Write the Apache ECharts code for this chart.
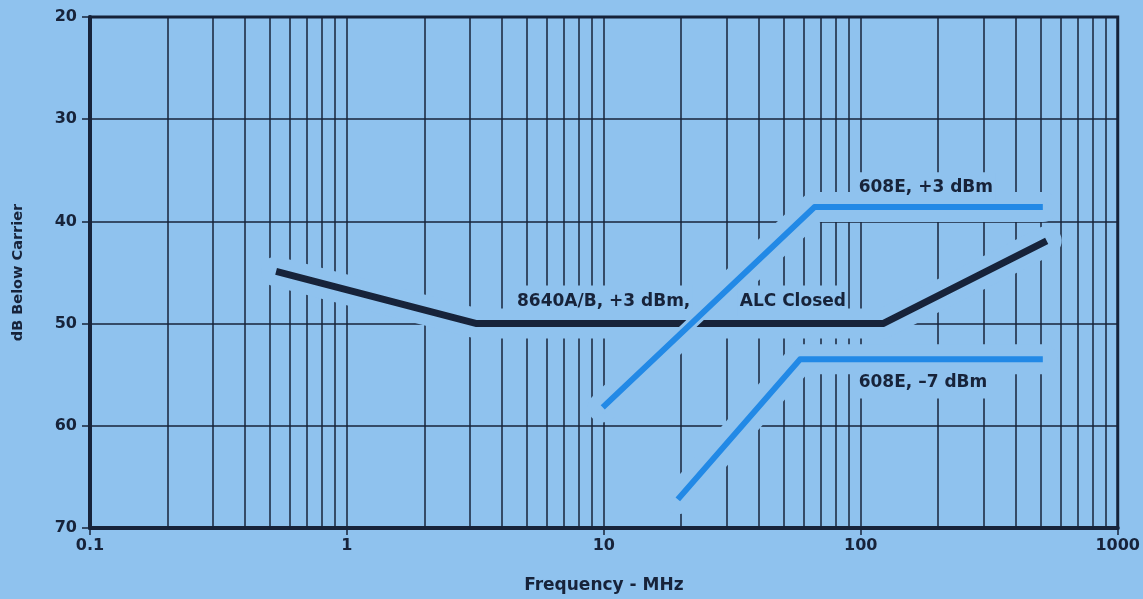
<!DOCTYPE html>
<html>
<head>
<meta charset="utf-8">
<title>Spurious vs Frequency</title>
<script src="https://cdn.jsdelivr.net/npm/echarts@6/dist/echarts.min.js"></script>
<style>
  html, body { margin: 0; padding: 0; background: #8fc2ee; }
  #chart { width: 1143px; height: 599px; }
</style>
</head>
<body>
<div id="chart"></div>
<script>
// values
const decadeLabels = [0.1, 1, 10, 100, 1000];
const minorFreqs = [
  0.2, 0.3, 0.4, 0.5, 0.6, 0.7, 0.8, 0.9,
  2, 3, 4, 5, 6, 7, 8, 9,
  20, 30, 40, 50, 60, 70, 80, 90,
  200, 300, 400, 500, 600, 700, 800, 900,
];
const dbTicks = [20, 30, 40, 50, 60, 70];

const alcFreq = [0.53, 3.2, 122, 529];
const alcDb = [44.9, 50, 50, 41.9];

const plus3Freq = [9.9, 66, 511];
const plus3Db = [58.2, 38.6, 38.6];

const minus7Freq = [19.4, 58, 511];
const minus7Db = [67.2, 53.5, 53.5];

const noteText = ["8640A/B, +3 dBm,", "ALC Closed", "608E, +3 dBm", "608E, \u20137 dBm"];
const noteFreq = [4.51, 33.2, 96.4, 96.4];
const noteDb = [47.8, 47.8, 36.7, 55.8];

const BG = "#8fc2ee";
const INK = "#17233a";
const BLUE = "#2289e6";
const FONT = "DejaVu Sans";

const pairs = (xs, ys) => xs.map((x, i) => [x, ys[i]]);

const chart = echarts.init(document.getElementById("chart"));

// background-coloured stroke under a curve, so whatever lies below breaks around it
const haloSeries = (xs, ys, width, z) => ({
  type: "line",
  z: z,
  silent: true,
  symbol: "none",
  emphasis: { disabled: true },
  data: pairs(xs, ys),
  itemStyle: { color: BG, opacity: 1 },
  lineStyle: { color: BG, opacity: 1, width: width, cap: "round", join: "round" },
});

const option = {
  animation: false,
  backgroundColor: BG,
  grid: {
    left: 90,
    right: 24,
    top: 17,
    bottom: 58,
    show: true,
    backgroundColor: BG,
    borderColor: INK,
    borderWidth: 3,
  },
  xAxis: {
    type: "log",
    logBase: 10,
    min: 0.1,
    max: 1000,
    name: "Frequency - MHz",
    nameLocation: "middle",
    nameGap: 49,
    nameTextStyle: { fontFamily: FONT, fontWeight: "bold", fontSize: 17, color: INK },
    axisLine: { show: true, lineStyle: { color: INK, width: 4 } },
    axisTick: { show: true, inside: false, length: 7, lineStyle: { color: INK, width: 1.5 } },
    axisLabel: {
      margin: 10,
      fontFamily: FONT,
      fontWeight: "bold",
      fontSize: 16,
      color: INK,
      formatter: (v) => {
        const hit = decadeLabels.find((d) => Math.abs(d - v) / d < 1e-6);
        return hit === undefined ? "" : String(hit);
      },
    },
    splitLine: { show: true, lineStyle: { color: INK, width: 1.5 } },
  },
  yAxis: {
    type: "value",
    inverse: true,
    min: dbTicks[0],
    max: dbTicks[dbTicks.length - 1],
    interval: 10,
    name: "dB Below Carrier",
    nameLocation: "middle",
    nameGap: 64,
    nameTextStyle: { fontFamily: FONT, fontWeight: "bold", fontSize: 14.5, color: INK },
    axisLine: { show: true, lineStyle: { color: INK, width: 4 } },
    axisTick: { show: true, inside: false, length: 8, lineStyle: { color: INK, width: 1.5 } },
    axisLabel: { margin: 13, fontFamily: FONT, fontWeight: "bold", fontSize: 16, color: INK },
    splitLine: { show: true, lineStyle: { color: INK, width: 1.5 } },
  },
  series: [
    {
      // minor vertical grid lines 2..9 in every decade
      type: "line",
      z: 1,
      silent: true,
      data: [],
      markLine: {
        z: 1,
        silent: true,
        animation: false,
        symbol: ["none", "none"],
        label: { show: false },
        emphasis: { disabled: true },
        lineStyle: { type: "solid", color: INK, width: 1.5, opacity: 1 },
        data: minorFreqs.map((f) => ({ xAxis: f })),
      },
    },
    haloSeries(alcFreq, alcDb, 30, 3),
    haloSeries(plus3Freq, plus3Db, 30, 3),
    haloSeries(minus7Freq, minus7Db, 30, 3),
    {
      type: "scatter",
      z: 4,
      silent: true,
      symbolSize: 0,
      emphasis: { disabled: true },
      data: noteText.map((t, i) => ({ value: [noteFreq[i], noteDb[i]], name: t })),
      label: {
        show: true,
        position: "right",
        distance: 0,
        formatter: (p) => p.name,
        fontFamily: FONT,
        fontWeight: "bold",
        fontSize: 17,
        color: INK,
        opacity: 1,
        textBorderWidth: 0,
        backgroundColor: BG,
        padding: [7, 2, 7, 2],
      },
    },
    {
      name: "8640A/B",
      type: "line",
      z: 5,
      symbol: "none",
      emphasis: { disabled: true },
      data: pairs(alcFreq, alcDb),
      lineStyle: { color: INK, width: 7, join: "round" },
    },
    // thin gap where the +3 dBm line crosses the black curve
    haloSeries(plus3Freq, plus3Db, 12, 6),
    {
      name: "608E +3 dBm",
      type: "line",
      z: 7,
      symbol: "none",
      emphasis: { disabled: true },
      data: pairs(plus3Freq, plus3Db),
      lineStyle: { color: BLUE, width: 6, join: "round" },
    },
    {
      name: "608E -7 dBm",
      type: "line",
      z: 7,
      symbol: "none",
      emphasis: { disabled: true },
      data: pairs(minus7Freq, minus7Db),
      lineStyle: { color: BLUE, width: 6, join: "round" },
    },
  ],
};

chart.setOption(option);

window.addEventListener("resize", () => {
  chart.resize();
});
</script>
</body>
</html>
